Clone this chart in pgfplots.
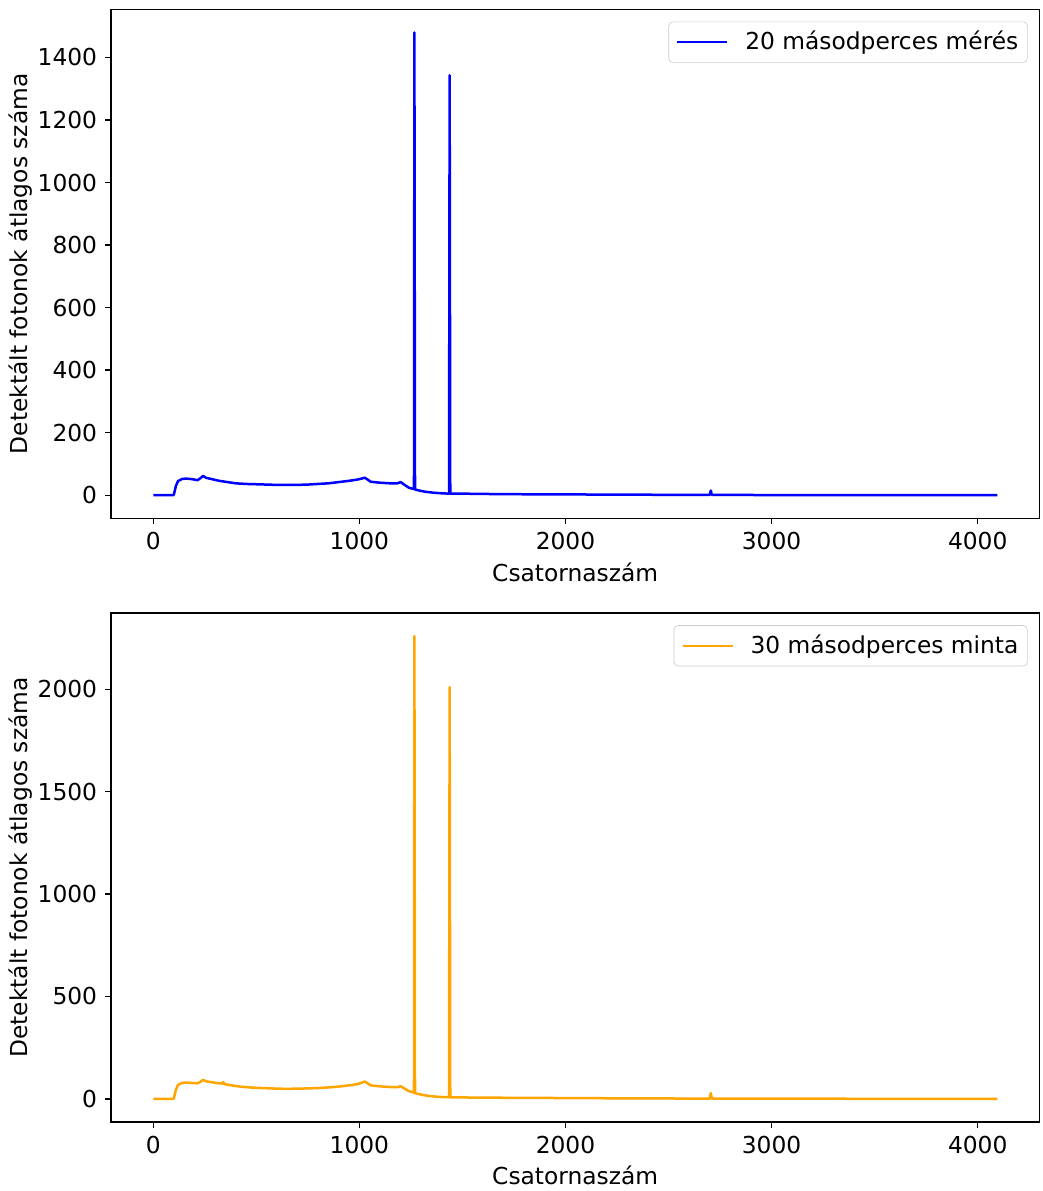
\documentclass[border=0pt]{standalone}
\usepackage{pgfplots}
\pgfplotsset{compat=1.18}
\usepackage{fontspec}
\setmainfont{DejaVu Sans}
\definecolor{mplorange}{RGB}{255,165,0}
\begin{document}
\fontsize{14}{16.8}\selectfont
\begin{tikzpicture}
\useasboundingbox (-66.6pt,5.6pt) rectangle (559.2pt,-709pt);
\pgfplotsset{
  common/.style={
    width=557pt, height=305.4pt, scale only axis,
    xmin=-205, xmax=4299,
    xtick={0,1000,2000,3000,4000},
    tick align=outside, xtick pos=left, ytick pos=left,
    major tick length=3.5pt,
    tick style={black, line width=0.8pt},
    axis line style={line width=0.8pt},
    /pgf/number format/1000 sep={},
    /pgf/number format/assume math mode=true,
    ticklabel style={font=\fontsize{14}{16.8}\selectfont},
    label style={font=\fontsize{14}{16.8}\selectfont},
    xlabel={Csatornaszám},
    ylabel={Detektált fotonok átlagos száma},
    xlabel style={yshift=2pt},
    ylabel style={yshift=-6.5pt},
    legend cell align=left,
    legend style={at={(0.9875,0.976)}, anchor=north east, draw=black!20, rounded corners=2.5pt,
      font=\fontsize{14}{16.8}\selectfont, inner xsep=4.4pt, inner ysep=3pt,
      nodes={inner xsep=1pt, inner ysep=2.5pt}},
    legend image code/.code={
      \path[draw=none, fill=none] (0pt,0pt) -- (39.8pt,0pt);
      \draw[#1, line cap=butt] (0pt,0pt) -- (30pt,0pt);
    },
  }
}
\begin{axis}[common, at={(0,0)}, anchor=north west,
  ymin=-74, ymax=1554, ytick={0,200,400,600,800,1000,1200,1400}]
\addplot[blue, line width=1.5pt, line join=round] coordinates {
(0,0) (95,0) (100,2) (110,30) (120,45) (140,52) (160,53) (180,52) (200,50) (215,48)
(230,55) (242,62) (255,56) (280,52) (320,46) (360,42) (400,38) (450,36) (500,35)
(550,34) (600,33) (650,33) (700,33) (750,34) (800,36) (850,38) (900,42) (950,46)
(990,50) (1010,53) (1026,56) (1040,50) (1055,43) (1100,40) (1150,38) (1185,38)
(1200,42) (1215,35) (1240,24) (1262,20) (1265,20) (1267,1480) (1270,18) (1290,15)
(1320,11) (1360,8) (1400,6) (1435,5) (1438,1343) (1441,5) (1500,5) (1600,4) (1800,3)
(2000,2.5) (2200,2) (2400,1.5) (2600,1) (2700,1) (2705,15) (2710,1) (3000,0.5)
(3500,0.3) (4095,0)
};
\addlegendentry{20 másodperces mérés}
\end{axis}
\begin{axis}[common, at={(0,-362.2pt)}, anchor=north west,
  ymin=-113, ymax=2373, ytick={0,500,1000,1500,2000}]
\addplot[mplorange, line width=1.5pt, line join=round] coordinates {
(0,0) (95,0) (100,3) (110,45) (120,68) (140,78) (160,80) (180,78) (200,77) (215,76)
(230,84) (242,93) (255,86) (280,82) (320,76) (335,75) (340,82) (345,72) (380,66)
(420,60) (480,55) (550,52) (600,50) (650,49) (700,50) (750,51) (800,53) (850,56)
(900,60) (950,66) (990,72) (1010,78) (1026,85) (1040,76) (1055,66) (1100,61)
(1150,58) (1185,57) (1200,62) (1215,53) (1240,38) (1262,32) (1265,30) (1267,2260)
(1270,28) (1290,23) (1320,17) (1360,12) (1400,9) (1435,8) (1438,2010) (1441,8)
(1500,7) (1600,6) (1800,5) (2000,4) (2200,3) (2400,2.5) (2600,1.5) (2700,1.5)
(2705,28) (2710,1.5) (3000,1) (3500,0.5) (4095,0)
};
\addlegendentry{30 másodperces minta}
\end{axis}
\end{tikzpicture}
\end{document}
